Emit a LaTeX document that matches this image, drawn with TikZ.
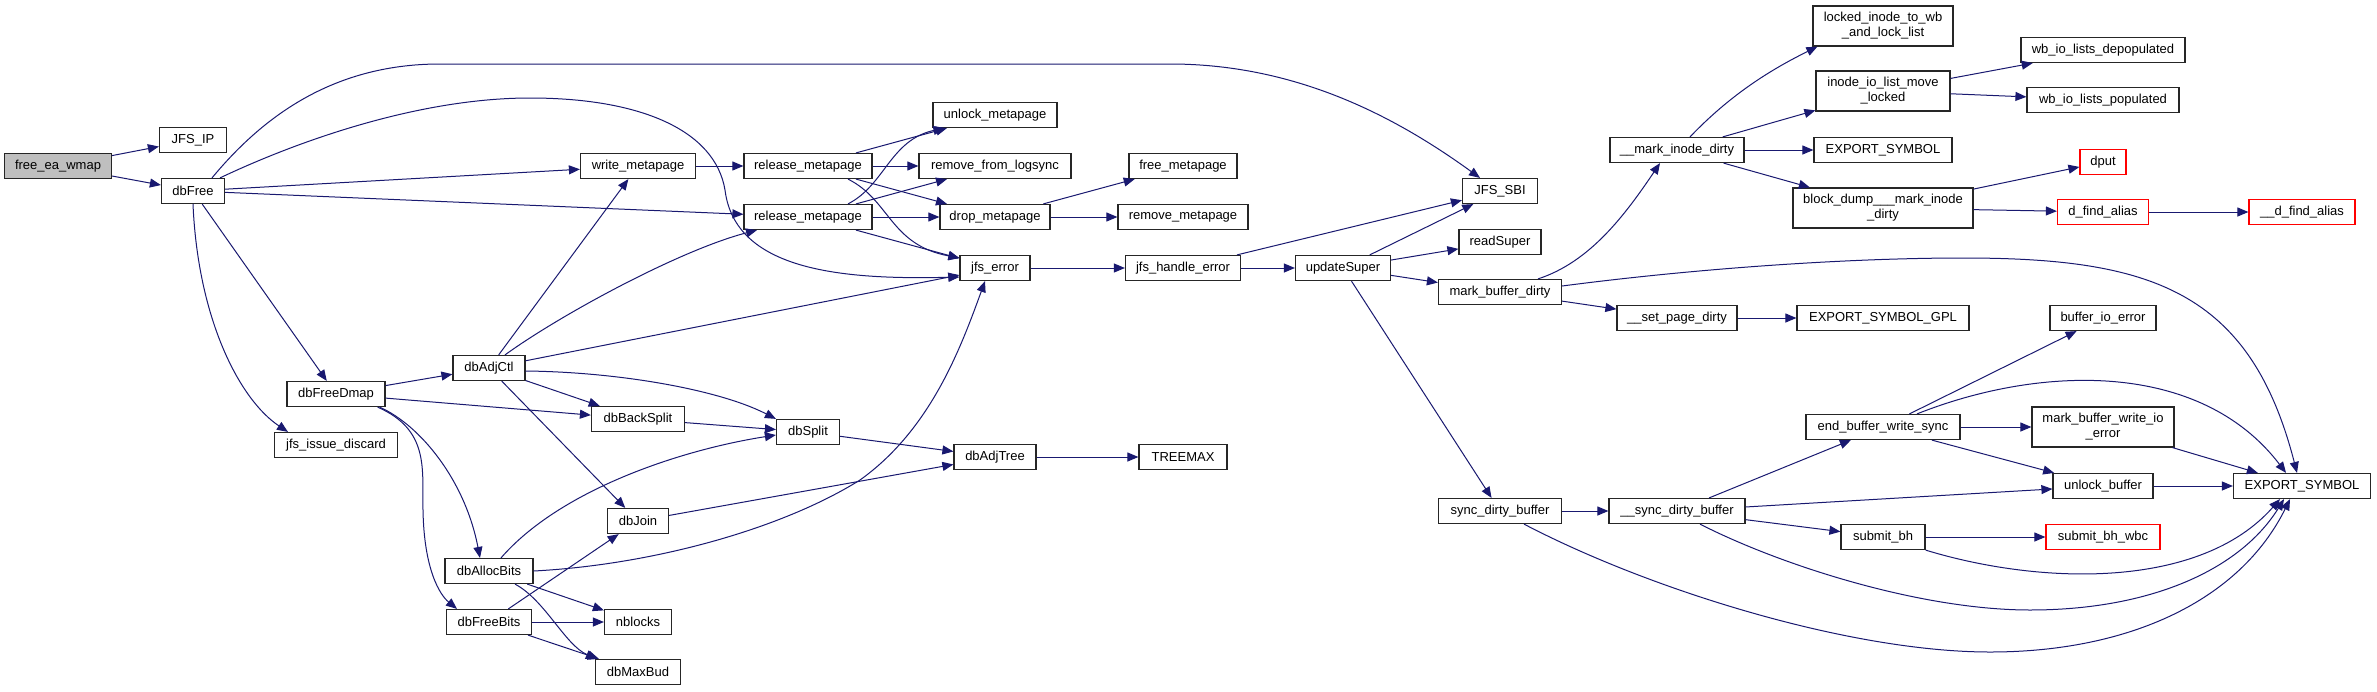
\documentclass[tikz,border=0pt]{standalone}
\usepackage{fontspec}
\setmainfont{Liberation Sans}
\usetikzlibrary{arrows.meta,calc}
\definecolor{edgec}{HTML}{191970}
\definecolor{rootfill}{HTML}{BFBFBF}
\definecolor{trunc}{HTML}{FF0000}
\begin{document}
\begin{tikzpicture}[x=0.5pt,y=-0.5pt,
  nd/.style={draw=black!85, line width=0.6pt, fill=white, minimum height=12.5pt, inner sep=0pt,
    font=\fontsize{6.5}{7.5}\selectfont, align=center, minimum width=#1*0.5pt},
  nd/.default=80,
  nd2/.style={nd=#1, minimum height=20pt},
  rootnd/.style={nd=#1, fill=rootfill},
  rednd/.style={nd=#1, draw=trunc},
  e/.style={draw=edgec, line width=0.5pt, -{Triangle[length=5.5pt,width=4.5pt]}}]

\fill[white] (0,0) rectangle (2377,691);
\useasboundingbox (0,0) rectangle (2377,691);

% nodes
\node[rootnd=107] (root) at (58,166) {free\_ea\_wmap};
\node[nd=67] (jfsip) at (193,140) {JFS\_IP};
\node[nd=63] (dbfree) at (193,191) {dbFree};
\node[nd=98] (dbfreedmap) at (336,394) {dbFreeDmap};
\node[nd=123] (discard) at (336,445) {jfs\_issue\_discard};
\node[nd=72] (dbadjctl) at (489,368) {dbAdjCtl};
\node[nd=88] (dballocbits) at (489,571) {dbAllocBits};
\node[nd=85] (dbfreebits) at (489,622) {dbFreeBits};
\node[nd=115] (writemp) at (638,166) {write\_metapage};
\node[nd=93] (dbbacksplit) at (638,419) {dbBackSplit};
\node[nd=61] (dbjoin) at (638,521) {dbJoin};
\node[nd=67] (nblocks) at (638,622) {nblocks};
\node[nd=85] (dbmaxbud) at (638,672) {dbMaxBud};
\node[nd=128] (relmp1) at (808,166) {release\_metapage};
\node[nd=128] (relmp2) at (808,217) {release\_metapage};
\node[nd=63] (dbsplit) at (808,432) {dbSplit};
\node[nd=124] (unlockmp) at (995,115) {unlock\_metapage};
\node[nd=152] (removels) at (995,166) {remove\_from\_logsync};
\node[nd=110] (dropmp) at (995,217) {drop\_metapage};
\node[nd=70] (jfserror) at (995,268) {jfs\_error};
\node[nd=82] (dbadjtree) at (995,457) {dbAdjTree};
\node[nd=108] (freemp) at (1183,166) {free\_metapage};
\node[nd=130] (removemp) at (1183,217) {remove\_metapage};
\node[nd=115] (jfshandle) at (1183,268) {jfs\_handle\_error};
\node[nd=88] (treemax) at (1183,457) {TREEMAX};
\node[nd=95] (updsuper) at (1343,268) {updateSuper};
\node[nd=75] (jfssbi) at (1500,191) {JFS\_SBI};
\node[nd=82] (readsuper) at (1500,242) {readSuper};
\node[nd=123] (markbd) at (1500,292) {mark\_buffer\_dirty};
\node[nd=123] (syncdb) at (1500,511) {sync\_dirty\_buffer};
\node[nd=134] (markinode) at (1677,150) {\_\_mark\_inode\_dirty};
\node[nd=120] (setpage) at (1677,318) {\_\_set\_page\_dirty};
\node[nd=136] (syncdbb) at (1677,511) {\_\_sync\_dirty\_buffer};
\node[nd2=140] (lockedinode) at (1883,26) {locked\_inode\_to\_wb\\\_and\_lock\_list};
\node[nd2=134] (inodeio) at (1883,91) {inode\_io\_list\_move\\\_locked};
\node[nd=138] (expsyma) at (1883,150) {EXPORT\_SYMBOL};
\node[nd2=180] (blockdump) at (1883,208) {block\_dump\_\_\_mark\_inode\\\_dirty};
\node[nd=172] (expgpl) at (1883,318) {EXPORT\_SYMBOL\_GPL};
\node[nd=154] (endbws) at (1883,427) {end\_buffer\_write\_sync};
\node[nd=84] (submitbh) at (1883,537) {submit\_bh};
\node[nd=164] (wbdepop) at (2103,50) {wb\_io\_lists\_depopulated};
\node[nd=152] (wbpop) at (2103,100) {wb\_io\_lists\_populated};
\node[rednd=46] (dput) at (2103,162) {dput};
\node[rednd=91] (dfind) at (2103,212) {d\_find\_alias};
\node[nd=106] (bufioerr) at (2103,318) {buffer\_io\_error};
\node[nd2=142] (markbwie) at (2103,427) {mark\_buffer\_write\_io\\\_error};
\node[nd=100] (unlockbuf) at (2103,486) {unlock\_buffer};
\node[rednd=114] (submitwbc) at (2103,537) {submit\_bh\_wbc};
\node[rednd=106] (ddfind) at (2302,212) {\_\_d\_find\_alias};
\node[nd=137] (expsymb) at (2302,486) {EXPORT\_SYMBOL};

% edges
\draw[e] (root) -- (jfsip);
\draw[e] (root) -- (dbfree);
\draw[e] ($(dbfree.north)+(19,0)$) .. controls (260,120) and (330,64) .. (440,64) -- (1170,64)
   .. controls (1300,64) and (1400,120) .. ($(jfssbi.north)+(-20,0)$);
\draw[e] ($(dbfree.north)+(27,0)$) .. controls (300,140) and (420,98) .. (530,98)
   .. controls (640,98) and (715,130) .. (725,190)
   .. controls (735,270) and (840,280) .. ($(jfserror.west)+(0,9)$);
\draw[e] (dbfree) -- (writemp);
\draw[e] (dbfree) -- (relmp2);
\draw[e] (dbfree) -- (dbfreedmap);
\draw[e] (dbfree.south) .. controls (198,320) and (240,400) .. ($(discard.north)+(-48,0)$);
\draw[e] (dbfreedmap) -- (dbadjctl);
\draw[e] (dbfreedmap) -- (dbbacksplit);
\draw[e] ($(dbfreedmap.south east)+(-6,0)$) .. controls (420,425) and (465,480) .. ($(dballocbits.north)+(-9,0)$);
\draw[e] ($(dbfreedmap.south east)+(-8,0)$) .. controls (430,430) and (422,470) .. (423,510)
   .. controls (424,570) and (440,595) .. ($(dbfreebits.north)+(-32,0)$);
\draw[e] (dbadjctl) -- (writemp);
\draw[e] ($(dbadjctl.north)+(16,0)$) .. controls (560,315) and (680,250) .. ($(relmp2.south)+(-51,0)$);
\draw[e] (dbadjctl) -- (jfserror);
\draw[e] ($(dbadjctl.east)+(0,3)$) .. controls (620,372) and (720,390) .. (dbsplit.north west);
\draw[e] (dbadjctl) -- (dbbacksplit);
\draw[e] (dbadjctl) -- (dbjoin);
\draw[e] (dbbacksplit) -- (dbsplit);
\draw[e] (dbsplit) -- (dbadjtree);
\draw[e] (dbjoin) -- (dbadjtree);
\draw[e] (dbadjtree) -- (treemax);
\draw[e] ($(dballocbits.north)+(12,0)$) .. controls (560,490) and (680,450) .. ($(dbsplit.west)+(0,3)$);
\draw[e] (dballocbits.east) .. controls (650,565) and (780,530) .. (860,480)
   .. controls (930,430) and (960,350) .. ($(jfserror.south)+(-10,0)$);
\draw[e] (dballocbits) -- (nblocks);
\draw[e] ($(dballocbits.south)+(26,0)$) .. controls (545,600) and (565,645) .. ($(dbmaxbud.north west)+(2,0)$);
\draw[e] (dbfreebits) -- (dbjoin);
\draw[e] (dbfreebits) -- (nblocks);
\draw[e] (dbfreebits) -- (dbmaxbud);
\draw[e] (writemp) -- (relmp1);
\draw[e] (relmp1) -- (unlockmp);
\draw[e] (relmp1) -- (removels);
\draw[e] (relmp1) -- (dropmp);
\draw[e] ($(relmp1.south)+(40,0)$) .. controls (890,200) and (890,245) .. ($(jfserror.north west)+(0,3)$);
\draw[e] ($(relmp2.north)+(40,0)$) .. controls (885,185) and (890,140) .. ($(unlockmp.south west)+(12,0)$);
\draw[e] (relmp2) -- (removels);
\draw[e] (relmp2) -- (dropmp);
\draw[e] (relmp2) -- (jfserror);
\draw[e] (dropmp) -- (freemp);
\draw[e] (dropmp) -- (removemp);
\draw[e] (jfserror) -- (jfshandle);
\draw[e] (jfshandle) -- (jfssbi);
\draw[e] (jfshandle) -- (updsuper);
\draw[e] (updsuper) -- (jfssbi);
\draw[e] (updsuper) -- (readsuper);
\draw[e] (updsuper) -- (markbd);
\draw[e] (updsuper) -- (syncdb);
\draw[e] ($(markbd.north)+(38,0)$) .. controls (1590,262) and (1625,215) .. ($(markinode.south)+(-17,0)$);
\draw[e] ($(markbd.east)+(0,-6)$) .. controls (1700,268) and (1850,258) .. (1963,258)
   .. controls (2150,258) and (2250,290) .. ($(expsymb.north)+(-5,0)$);
\draw[e] (markbd) -- (setpage);
\draw[e] (setpage) -- (expgpl);
\draw[e] ($(markinode.north)+(13,0)$) .. controls (1730,95) and (1770,70) .. ($(lockedinode.south west)+(5,0)$);
\draw[e] (markinode) -- (inodeio);
\draw[e] (markinode) -- (expsyma);
\draw[e] (markinode) -- (blockdump);
\draw[e] (inodeio) -- (wbdepop);
\draw[e] (inodeio) -- (wbpop);
\draw[e] (blockdump) -- (dput);
\draw[e] (blockdump) -- (dfind);
\draw[e] (dfind) -- (ddfind);
\draw[e] (syncdb) -- (syncdbb);
\draw[e] ($(syncdb.south)+(24,0)$) .. controls (1650,590) and (1850,652) .. (1990,652)
   .. controls (2130,652) and (2240,600) .. ($(expsymb.south)+(-12,0)$);
\draw[e] (syncdbb) -- (endbws);
\draw[e] (syncdbb) -- (unlockbuf);
\draw[e] (syncdbb) -- (submitbh);
\draw[e] ($(syncdbb.south)+(23,0)$) .. controls (1780,565) and (1920,610) .. (2030,610)
   .. controls (2150,610) and (2240,570) .. ($(expsymb.south)+(-18,0)$);
\draw[e] (endbws) -- (bufioerr);
\draw[e] ($(endbws.north)+(34,0)$) .. controls (2040,365) and (2200,360) .. ($(expsymb.north)+(-16,0)$);
\draw[e] (endbws) -- (markbwie);
\draw[e] (endbws) -- (unlockbuf);
\draw[e] (markbwie) -- (expsymb);
\draw[e] (unlockbuf) -- (expsymb);
\draw[e] (submitbh) -- (submitwbc);
\draw[e] (submitbh.south east) .. controls (2040,585) and (2200,590) .. ($(expsymb.south)+(-22,0)$);
\end{tikzpicture}
\end{document}
